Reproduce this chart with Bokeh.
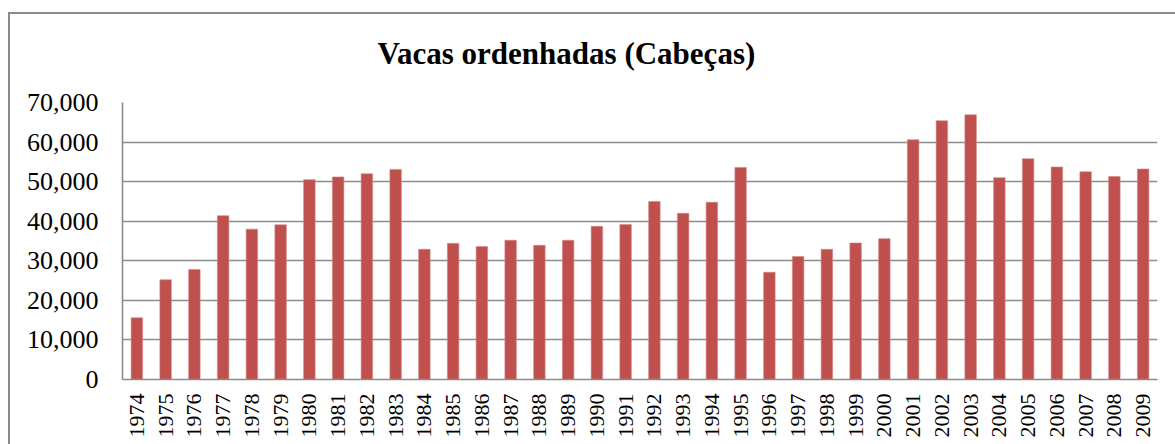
import math
from bokeh.plotting import figure
from bokeh.models import NumeralTickFormatter, Range1d, FactorRange, FixedTicker, Title
from bokeh.embed import file_html
from bokeh.resources import INLINE

years = [str(y) for y in range(1974, 2010)]
cows = [15600, 25200, 27800, 41400, 38000, 39100, 50500, 51200, 52000, 53100,
        32900, 34400, 33600, 35200, 33900, 35200, 38700, 39200, 45000, 42000,
        44800, 53600, 27100, 31100, 32900, 34500, 35600, 60600, 65400, 66900,
        51000, 55800, 53700, 52500, 51300, 53200]
y_ticks = [0, 10000, 20000, 30000, 40000, 50000, 60000, 70000]
title_text = "Vacas ordenhadas (Cabeças)"

FONT = "Liberation Serif"
GRID = "#8c8c8c"
BORDER = "#8a8a8a"

p = figure(x_range=FactorRange(*years, range_padding=0), y_range=Range1d(0, 70000),
           width=1175, height=444, output_backend="svg", toolbar_location=None,
           min_border_left=122, min_border_top=102, min_border_bottom=65, min_border_right=18)
p.title = Title(text=title_text, text_font=FONT, text_font_size="31px",
                text_font_style="bold", text_color="black", align="left", offset=255, standoff=64)

p.vbar(x=years, top=cows, width=0.4, fill_color="#C0504D", line_color="#D08a88", line_width=0.6)

p.outline_line_color = None
p.border_fill_alpha = 0
p.background_fill_color = "white"
p.xgrid.grid_line_color = None
p.ygrid.grid_line_color = GRID
p.ygrid.grid_line_width = 1.6
p.yaxis.ticker = FixedTicker(ticks=y_ticks)
p.yaxis.formatter = NumeralTickFormatter(format="0,0")
for ax in (p.xaxis, p.yaxis):
    ax.axis_line_color = GRID
    ax.axis_line_width = 1.6
    ax.major_tick_line_color = None
    ax.minor_tick_line_color = None
    ax.major_tick_out = 0
    ax.major_tick_in = 0
    ax.major_label_text_font = FONT
    ax.major_label_text_color = "black"
p.yaxis.major_label_text_font_size = "26px"
p.yaxis.major_label_standoff = 24
p.xaxis.major_label_text_font_size = "22px"
p.xaxis.major_label_orientation = math.pi / 2
p.xaxis.major_label_standoff = 14

# chart-area border (left and top edges visible in the reference)
p.styles = {
    "background": (f"linear-gradient({BORDER},{BORDER}) 8px 12px / 2px 100% no-repeat, "
                   f"linear-gradient({BORDER},{BORDER}) 8px 12px / 100% 2px no-repeat, white"),
}

open("out.html", "w").write(file_html(p, INLINE))
